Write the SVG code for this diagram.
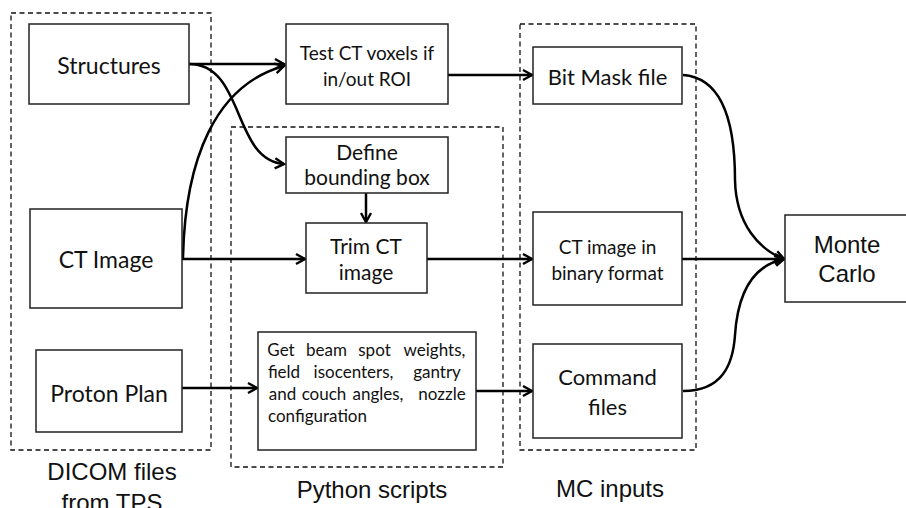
<svg xmlns="http://www.w3.org/2000/svg" width="906" height="508" viewBox="0 0 906 508">
<defs>
<marker id="arr" markerUnits="userSpaceOnUse" markerWidth="14" markerHeight="14" viewBox="0 0 14 14" refX="12" refY="7" orient="auto">
<path d="M3,2 L12,7 L3,12" fill="none" stroke="#000" stroke-width="2.4" stroke-linejoin="miter"/>
</marker>
<style>
.box{fill:#fff;stroke:#222;stroke-width:1.5}
.grp{fill:none;stroke:#111;stroke-width:1.3;stroke-dasharray:5 3.5}
.c{fill:none;stroke:#000;stroke-width:2.5}
.t{font-family:Lato,"Liberation Sans",sans-serif;fill:#111;text-anchor:middle}
.a{font-family:"Liberation Sans",Arial,sans-serif;fill:#111;text-anchor:middle;font-size:24px}
.s{font-family:Lato,"Liberation Sans",sans-serif;fill:#111;font-size:17px;text-anchor:middle}
</style>
</defs>
<rect width="906" height="508" fill="#fff"/>
<g id="groups">
<rect class="grp" x="11" y="13" width="200" height="437"/>
<rect class="grp" x="231" y="127" width="272" height="340"/>
<rect class="grp" x="520" y="24" width="176" height="426"/>
<text class="a" x="112" y="480">DICOM files</text>
<text class="a" x="112" y="511">from TPS</text>
<text class="a" x="372" y="498">Python scripts</text>
<text class="a" x="610" y="497">MC inputs</text>
</g>
<g id="connectors">
<path class="c" d="M189,64 L284,64" marker-end="url(#arr)"/>
<path class="c" d="M189,64 C245,64 232,160 284,164" marker-end="url(#arr)"/>
<path class="c" d="M183,258 C185,160 215,85 284,66" marker-end="url(#arr)"/>
<path class="c" d="M182,259 L305,259" marker-end="url(#arr)"/>
<path class="c" d="M366,193 L366,222" marker-end="url(#arr)"/>
<path class="c" d="M182,388 L257,388" marker-end="url(#arr)"/>
<path class="c" d="M448,75 L532,75" marker-end="url(#arr)"/>
<path class="c" d="M427,259 L532,259" marker-end="url(#arr)"/>
<path class="c" d="M476,391 L532,391" marker-end="url(#arr)"/>
<path class="c" d="M683,75 C725,78 735,130 735,180 C736,225 760,250 784,259" marker-end="url(#arr)"/>
<path class="c" d="M682,259 L784,259" marker-end="url(#arr)"/>
<path class="c" d="M683,391 C722,391 733,365 735,335 C738,290 755,265 784,259" marker-end="url(#arr)"/>
</g>
<g id="structures">
<rect class="box" x="29" y="24" width="160" height="80"/>
<text class="t" x="109" y="74" font-size="23">Structures</text>
</g>
<g id="ct-image">
<rect class="box" x="30" y="209" width="152" height="99"/>
<text class="t" x="106" y="268" font-size="23">CT Image</text>
</g>
<g id="proton-plan">
<rect class="box" x="36" y="350" width="146" height="82"/>
<text class="t" x="109" y="402" font-size="23">Proton Plan</text>
</g>
<g id="test-ct">
<rect class="box" x="286" y="24" width="162" height="80"/>
<text class="t" x="367" y="60" font-size="19">Test CT voxels if</text>
<text class="t" x="367" y="86" font-size="19">in/out ROI</text>
</g>
<g id="define-bbox">
<rect class="box" x="286" y="137" width="162" height="56"/>
<text class="t" x="367" y="160" font-size="21">Define</text>
<text class="t" x="367" y="185" font-size="21">bounding box</text>
</g>
<g id="trim-ct">
<rect class="box" x="306" y="223" width="121" height="70"/>
<text class="t" x="366" y="254" font-size="21">Trim CT</text>
<text class="t" x="366" y="280" font-size="21">image</text>
</g>
<g id="get-beam">
<rect class="box" x="258" y="332" width="218" height="118"/>
<text class="s" x="281" y="356">Get</text>
<text class="s" x="326.5" y="356">beam</text>
<text class="s" x="374.5" y="356">spot</text>
<text class="s" x="434.5" y="356">weights,</text>
<text class="s" x="284" y="378">field</text>
<text class="s" x="353.5" y="378">isocenters,</text>
<text class="s" x="437" y="378">gantry</text>
<text class="s" x="282.5" y="400">and</text>
<text class="s" x="324" y="400">couch</text>
<text class="s" x="378" y="400">angles,</text>
<text class="s" x="442" y="400">nozzle</text>
<text class="s" x="268" y="422" style="text-anchor:start">configuration</text>
</g>
<g id="bit-mask">
<rect class="box" x="533" y="47" width="149" height="57"/>
<text class="t" x="607.5" y="85" font-size="22">Bit Mask file</text>
</g>
<g id="ct-binary">
<rect class="box" x="533" y="212" width="149" height="93"/>
<text class="t" x="607.5" y="254" font-size="19">CT image in</text>
<text class="t" x="607.5" y="280" font-size="19">binary format</text>
</g>
<g id="command-files">
<rect class="box" x="533" y="344" width="149" height="94"/>
<text class="t" x="607.5" y="385" font-size="22">Command</text>
<text class="t" x="607.5" y="415" font-size="22">files</text>
</g>
<g id="monte-carlo">
<rect class="box" x="785" y="215" width="125" height="87"/>
<text class="a" x="847" y="253">Monte</text>
<text class="a" x="847" y="282">Carlo</text>
</g>
</svg>
